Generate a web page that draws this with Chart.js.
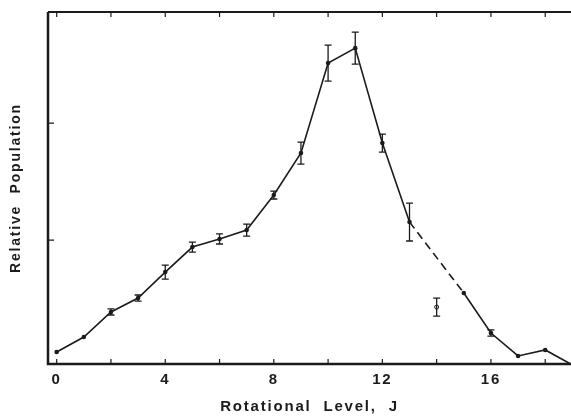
<!DOCTYPE html>
<html>
<head>
<meta charset="utf-8">
<script src="https://cdn.jsdelivr.net/npm/chart.js@4"></script>
<style>
    body { margin: 0; background: #fff; }
    .graph { width: 571px; height: 416px; position: relative; }
</style>
</head>
<body>
<div class="graph"><canvas id="chart"></canvas></div>
<script>
// rotational levels J and relative populations
const levels = [0, 1, 2, 3, 4, 5, 6, 7, 8, 9, 10, 11, 12, 13, 15, 16, 17, 18, 19];
const population = [0.043, 0.171, 0.385, 0.504, 0.726, 0.94, 1.009, 1.085, 1.385, 1.744,
    2.513, 2.641, 1.829, 1.154, 0.547, 0.205, 0.009, 0.06, -0.068];
const popError = [0, 0, 0.026, 0.026, 0.06, 0.043, 0.043, 0.051, 0.034, 0.094,
    0.154, 0.137, 0.077, 0.162, 0, 0.026, 0, 0, 0];

// the separate open point at J = 14
const openLevel = [14];
const openPopulation = [0.427];
const openError = [0.077];

const xTicks = [0, 2, 4, 6, 8, 10, 12, 14, 16, 18];
const xLabels = [0, 4, 8, 12, 16];
const yTicks = [1, 2];

const ink = "#1b1b1b";

function toPoints(xs, ys) {
    return xs.map((x, i) => ({ x: x, y: ys[i] }));
}

// error bars + axis frame with inward ticks
const framePlugin = {
    id: "frame",
    beforeDraw(chart) {
        chart.ctx.letterSpacing = "1.8px";
    },
    afterDatasetsDraw(chart) {
        const ctx = chart.ctx, x = chart.scales.x, y = chart.scales.y;
        ctx.save();
        ctx.strokeStyle = ink;
        ctx.lineWidth = 1.3;
        chart.data.datasets.forEach(ds => {
            ds.data.forEach((p, i) => {
                const e = ds.errors[i];
                if (!e) return;
                const px = x.getPixelForValue(p.x);
                const top = y.getPixelForValue(p.y + e);
                const bot = y.getPixelForValue(p.y - e);
                ctx.beginPath();
                ctx.moveTo(px, top); ctx.lineTo(px, bot);
                ctx.moveTo(px - 3.5, top); ctx.lineTo(px + 3.5, top);
                ctx.moveTo(px - 3.5, bot); ctx.lineTo(px + 3.5, bot);
                ctx.stroke();
            });
        });
        ctx.restore();
    },
    afterDraw(chart) {
        const ctx = chart.ctx, a = chart.chartArea, x = chart.scales.x, y = chart.scales.y;
        ctx.save();
        ctx.strokeStyle = ink;
        ctx.lineWidth = 2.5;
        ctx.beginPath();
        ctx.moveTo(a.left, a.top);
        ctx.lineTo(a.left, a.bottom);
        ctx.lineTo(a.right, a.bottom);
        ctx.stroke();
        ctx.lineWidth = 2;
        ctx.beginPath();
        ctx.moveTo(a.left, a.top);
        ctx.lineTo(a.right, a.top);
        ctx.stroke();

        ctx.lineWidth = 1.2;
        ctx.beginPath();
        xTicks.forEach(v => {
            const px = x.getPixelForValue(v);
            ctx.moveTo(px, a.bottom); ctx.lineTo(px, a.bottom - 5);
            ctx.moveTo(px, a.top); ctx.lineTo(px, a.top + 5);
        });
        yTicks.forEach(v => {
            const py = y.getPixelForValue(v);
            ctx.moveTo(a.left, py); ctx.lineTo(a.left + 6, py);
        });
        ctx.stroke();
        ctx.restore();
    }
};

chart = new Chart(document.getElementById("chart"), {
    type: "line",
    data: {
        datasets: [{
            data: toPoints(levels, population),
            errors: popError,
            borderColor: ink,
            backgroundColor: ink,
            borderWidth: 1.6,
            pointRadius: 2.3,
            pointBorderWidth: 0,
            fill: false,
            tension: 0,
            segment: {
                borderDash: c => c.p0.parsed.x === 13 ? [8, 5] : undefined
            }
        }, {
            data: toPoints(openLevel, openPopulation),
            errors: openError,
            showLine: false,
            borderColor: ink,
            backgroundColor: "#fff",
            borderWidth: 1,
            pointRadius: 2,
        }]
    },
    options: {
        responsive: true,
        maintainAspectRatio: false,
        animation: false,
        layout: { autoPadding: false, padding: { left: 8, right: 0, top: 12, bottom: 0 } },
        plugins: {
            legend: { display: false },
            tooltip: { enabled: false }
        },
        scales: {
            x: {
                type: "linear",
                min: -0.32,
                max: 18.95,
                afterBuildTicks: s => { s.ticks = xTicks.map(v => ({ value: v })); },
                afterFit: s => {
                    s.height = 52;
                    s.paddingLeft = 0;
                    s.paddingRight = 0;
                },
                grid: { display: false, drawTicks: false },
                border: { display: false },
                ticks: {
                    padding: 7,
                    maxRotation: 0,
                    autoSkip: false,
                    color: ink,
                    font: { family: "Liberation Sans", size: 15, weight: "bold" },
                    callback: v => xLabels.includes(v) ? String(v) : ""
                },
                title: {
                    display: true,
                    text: "Rotational  Level,  J",
                    color: ink,
                    padding: { top: 0, bottom: 0 },
                    font: { family: "Liberation Sans", size: 15, weight: "bold" }
                }
            },
            y: {
                min: -0.06,
                max: 2.95,
                afterBuildTicks: s => { s.ticks = yTicks.map(v => ({ value: v })); },
                afterFit: s => { s.width = 40; },
                grid: { display: false, drawTicks: false },
                border: { display: false },
                ticks: { display: false },
                title: {
                    display: true,
                    text: "Relative  Population",
                    color: ink,
                    padding: { top: 0, bottom: 0 },
                    font: { family: "Liberation Sans", size: 14, weight: "bold" }
                }
            }
        }
    },
    plugins: [framePlugin]
});
</script>
</body>
</html>
